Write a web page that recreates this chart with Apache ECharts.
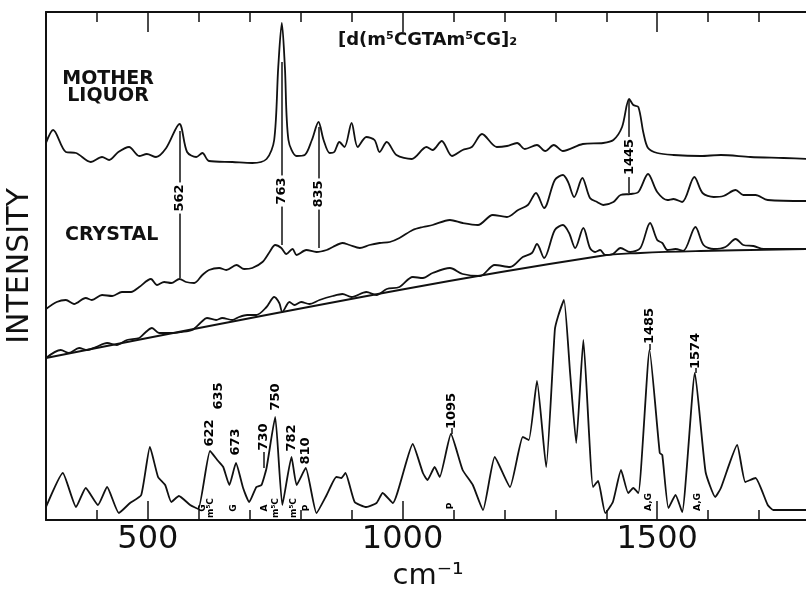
<!DOCTYPE html>
<html>
<head>
<meta charset="utf-8">
<title>Raman spectra</title>
<script src="https://cdn.jsdelivr.net/npm/echarts@6/dist/echarts.min.js"></script>
<style>
  html, body { margin: 0; padding: 0; background: #fff; }
  #chart { width: 806px; height: 591px; }
</style>
</head>
<body>
<div id="chart"></div>
<script>
// wavenumber (cm-1), intensity (arbitrary units)
const motherLiquor = [[300,377],[314,390],[339,368],[359,367],[388,358],[410,363],[424,360],[442,368],[463,373],[483,364],[498,366],[516,363],[536,372],[562,396],[577,368],[595,363],[607,367],[620,359],[666,358],[705,357],[733,361],[748,380],[756,453],[763,497],[769,453],[776,380],[792,364],[808,365],[822,380],[835,398],[845,380],[857,367],[866,368],[876,378],[886,373],[900,397],[912,373],[929,383],[945,380],[955,368],[969,378],[988,365],[1018,361],[1047,373],[1059,370],[1077,379],[1097,364],[1118,370],[1136,373],[1156,386],[1185,373],[1205,374],[1225,377],[1240,371],[1264,375],[1280,369],[1297,375],[1315,369],[1354,376],[1394,377],[1414,380],[1431,393],[1445,421],[1453,415],[1463,413],[1473,387],[1482,372],[1500,367],[1532,365],[1585,364],[1625,365],[1683,363],[1748,362],[1800,361]];

const crystalRaw = [[300,211],[321,218],[339,220],[355,216],[378,222],[390,220],[410,225],[430,224],[449,228],[467,228],[483,233],[506,241],[518,235],[532,238],[546,237],[562,241],[575,238],[591,237],[607,245],[620,250],[640,252],[654,250],[674,255],[689,251],[705,252],[725,258],[739,268],[750,275],[762,272],[772,266],[784,271],[792,265],[811,270],[831,268],[851,270],[863,273],[882,277],[896,275],[916,272],[935,275],[955,277],[975,278],[994,282],[1020,290],[1040,293],[1059,295],[1093,300],[1118,297],[1148,295],[1177,305],[1205,303],[1227,310],[1246,315],[1262,327],[1278,312],[1299,340],[1315,345],[1325,338],[1337,323],[1353,342],[1368,322],[1382,318],[1394,315],[1414,318],[1428,325],[1447,326],[1463,328],[1482,346],[1500,328],[1520,320],[1532,321],[1549,318],[1573,343],[1589,327],[1611,323],[1630,324],[1654,330],[1669,325],[1693,325],[1717,320],[1800,319]];

const crystalOnBase = [[300,162],[329,170],[345,167],[365,172],[381,170],[398,173],[420,177],[439,175],[459,180],[483,182],[496,188],[508,192],[522,187],[546,187],[565,188],[587,190],[605,198],[616,202],[634,200],[646,202],[666,200],[679,203],[695,205],[713,205],[733,213],[748,223],[758,217],[764,208],[778,218],[788,215],[801,218],[817,216],[837,220],[863,224],[882,226],[900,223],[929,228],[949,225],[969,231],[994,233],[1020,243],[1040,242],[1059,247],[1093,252],[1118,246],[1152,244],[1181,255],[1211,253],[1236,263],[1254,267],[1264,276],[1278,262],[1299,290],[1315,295],[1327,287],[1339,272],[1355,292],[1368,272],[1378,268],[1388,270],[1398,265],[1413,266],[1428,272],[1447,268],[1467,272],[1486,297],[1500,280],[1510,277],[1520,270],[1536,271],[1551,269],[1575,293],[1591,275],[1611,271],[1634,273],[1654,281],[1669,275],[1689,274],[1709,271],[1800,271]];

const baseline = [[300,162],[994,230],[1388,264],[1467,267],[1585,269],[1800,271]];

const difference = [[300,13],[333,47],[359,13],[378,32],[402,15],[420,33],[443,7],[465,17],[487,25],[504,73],[520,43],[534,35],[546,18],[561,24],[583,15],[599,11],[622,69],[638,59],[648,53],[660,35],[673,57],[687,32],[699,18],[713,33],[723,35],[733,52],[750,103],[764,15],[782,63],[792,35],[810,52],[831,7],[851,25],[870,43],[880,42],[888,47],[906,18],[929,13],[949,17],[961,27],[981,17],[1020,76],[1040,47],[1049,40],[1063,53],[1073,43],[1095,86],[1118,50],[1138,35],[1158,10],[1181,63],[1211,33],[1236,83],[1248,80],[1264,139],[1282,53],[1299,190],[1305,203],[1317,220],[1329,147],[1341,77],[1355,180],[1374,33],[1384,39],[1398,7],[1413,18],[1429,50],[1443,27],[1453,32],[1463,27],[1485,170],[1505,67],[1510,65],[1522,12],[1536,25],[1549,8],[1574,147],[1595,48],[1614,23],[1625,32],[1657,75],[1673,38],[1693,42],[1717,15],[1728,10],[1800,10]];

// marked bands between mother liquor and crystal
const markedBands = [562, 763, 835, 1445];
const markTop = [389, 458, 393, 420];
const markBottom = [242, 275, 272, 327];
const markLabelAt = [322, 329, 326, 363];

// labelled peaks of the lower spectrum
const peakNames = ['622', '635', '673', '730', '750', '782', '810', '1095', '1485', '1574'];
const peakAt = [622, 638, 673, 728, 750, 782, 809, 1096, 1486, 1575];
const peakLabelAt = [87, 124, 78, 83, 123, 82, 69, 109, 194, 169];
const stemFrom = [null, null, null, 52, null, null, null, 86, 170, 147];
const stemTo = [null, null, null, 68, null, null, null, 92, 176, 152];

// base assignments
const assignNames = ['G', 'm⁵C', 'G', 'A', 'm⁵C', 'm⁵C', 'P', 'P', 'A,G', 'A,G'];
const assignAt = [608, 624, 668, 730, 750, 786, 811, 1095, 1484, 1579];
const assignLevel = [12, 12, 12, 12, 12, 12, 12, 14, 18, 18];

const minorTicks = [400, 500, 600, 700, 800, 900, 1000, 1100, 1200, 1300, 1400, 1500, 1600, 1700, 1800];
const majorTicks = [500, 1000, 1500];

const ink = '#111';
const chart = echarts.init(document.getElementById('chart'));

function spectrum(data, smooth) {
  return {
    type: 'line', data: data, smooth: smooth, showSymbol: false, silent: true,
    lineStyle: { color: ink, width: 1.8 }
  };
}

function axisX(position, ticks, len, showLine, labels) {
  return {
    type: 'value', min: 300, max: 1800, position: position,
    axisLine: { show: showLine, lineStyle: { color: ink, width: 2 } },
    axisTick: { inside: true, length: len, customValues: ticks, lineStyle: { color: ink, width: 1.5 } },
    axisLabel: labels ? { customValues: majorTicks, formatter: (v) => String(v), fontSize: 32, fontFamily: 'DejaVu Sans', color: ink, margin: 4 } : { show: false },
    splitLine: { show: false }
  };
}

const bottomAxis = axisX('bottom', minorTicks, 10, true, true);
bottomAxis.name = 'cm⁻¹';
bottomAxis.nameLocation = 'middle';
bottomAxis.nameGap = 42;
bottomAxis.nameTextStyle = { fontSize: 29, fontFamily: 'DejaVu Sans', color: ink };

const upperLines = markedBands.map((v, i) => [{ coord: [v, markTop[i]] }, { coord: [v, markBottom[i]] }]);
const stems = [];
peakAt.forEach((v, i) => {
  if (stemFrom[i] !== null) stems.push([{ coord: [v, stemFrom[i]] }, { coord: [v, stemTo[i]] }]);
});

function marker(lines) {
  return { symbol: ['none', 'none'], silent: true, label: { show: false }, lineStyle: { color: ink, width: 1.5, type: 'solid' }, data: lines };
}

function textMarks(data, size, bg) {
  return {
    type: 'scatter', silent: true, symbolSize: 2, itemStyle: { color: '#fff', opacity: 1 },
    data: data, z: 5,
    label: { show: true, position: 'inside', rotate: 90, formatter: '{b}', color: '#000',
      fontSize: size, fontWeight: 'bold', fontFamily: 'DejaVu Sans', opacity: 1,
      textBorderWidth: 0, textBorderColor: 'transparent',
      backgroundColor: bg ? '#fff' : 'transparent', padding: bg ? [0, 2] : 0 }
  };
}

const motherSeries = spectrum(motherLiquor, 0.3);
motherSeries.markLine = marker(upperLines);
const diffSeries = spectrum(difference, 0.15);
diffSeries.markLine = marker(stems);

chart.setOption({
  animation: false,
  grid: { left: 46, top: 12, width: 764, height: 508, outerBoundsMode: 'none', containLabel: false },
  xAxis: [
    bottomAxis,
    axisX('bottom', majorTicks, 19, false, false),
    axisX('top', minorTicks, 10, true, false),
    axisX('top', majorTicks, 20, false, false)
  ],
  yAxis: {
    type: 'value', min: 0, max: 508,
    axisLine: { show: true, lineStyle: { color: ink, width: 2 } },
    axisTick: { show: false }, axisLabel: { show: false }, splitLine: { show: false },
    name: 'INTENSITY', nameLocation: 'middle', nameGap: 11,
    nameTextStyle: { fontSize: 30, fontFamily: 'DejaVu Sans', color: ink }
  },
  graphic: [
    { type: 'text', left: 338, top: 31, style: { text: '[d(m⁵CGTAm⁵CG]₂', font: 'bold 18px "DejaVu Sans"', fill: ink } },
    { type: 'text', x: 108, y: 71, style: { text: 'MOTHER\nLIQUOR', font: 'bold 19px "DejaVu Sans"', fill: ink, align: 'center', lineHeight: 17 } },
    { type: 'text', left: 65, top: 226, style: { text: 'CRYSTAL', font: 'bold 19px "DejaVu Sans"', fill: ink } }
  ],
  series: [
    motherSeries,
    spectrum(crystalRaw, 0.3),
    spectrum(crystalOnBase, 0.3),
    spectrum(baseline, 0.4),
    diffSeries,
    textMarks(markedBands.map((v, i) => ({ value: [v, markLabelAt[i]], name: String(v) })), 13, true),
    textMarks(peakAt.map((v, i) => ({ value: [v, peakLabelAt[i]], name: peakNames[i] })), 13, false),
    textMarks(assignAt.map((v, i) => ({ value: [v, assignLevel[i]], name: assignNames[i] })), 9, false)
  ]
});
</script>
</body>
</html>
